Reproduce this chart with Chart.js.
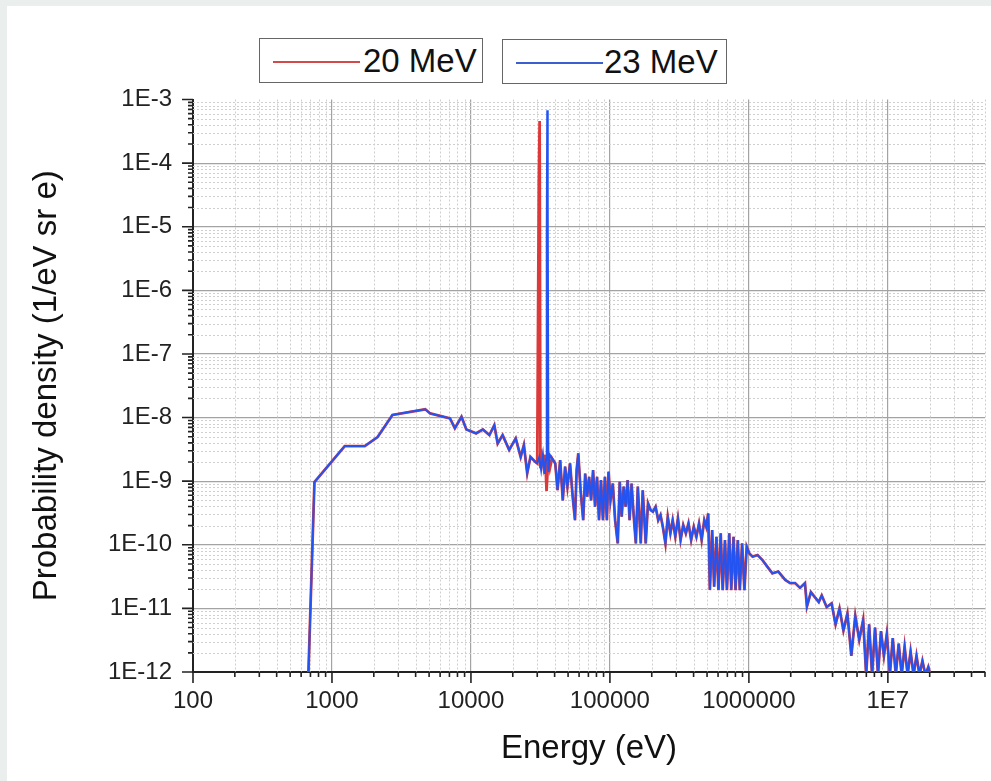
<!DOCTYPE html>
<html>
<head>
<meta charset="utf-8">
<script src="https://cdn.jsdelivr.net/npm/chart.js@4.4.1/dist/chart.umd.min.js"></script>
<style>
  html, body { margin: 0; padding: 0; overflow: hidden; background: #eaefee; }
  body { width: 991px; height: 781px; position: relative; }
  #panel { position: absolute; left: 7px; top: 6px; width: 1100px; height: 800px; background: #fff; }
  #wrap { position: absolute; left: 0; top: 0; width: 1000px; height: 781px; }
  .leg { position: absolute; height: 43px; border: 1.5px solid #666; background: #fff; box-sizing: content-box;
         font-family: 'Liberation Sans', Arial, sans-serif; font-size: 33px; color: #111; }
  .leg .ln { position: absolute; top: 22px; height: 2px; width: 87px; }
  .leg .tx { position: absolute; top: 1px; line-height: 42px; }
</style>
</head>
<body>
<div id="panel"></div>
<div id="wrap"><canvas id="chart" width="1000" height="781"></canvas></div>
<div class="leg" style="left:259px; top:38px; width:222px;">
  <div class="ln" style="left:13px; background:#d24a4a;"></div>
  <div class="tx" style="left:103px;">20 MeV</div>
</div>
<div class="leg" style="left:502px; top:39px; width:223px;">
  <div class="ln" style="left:13px; background:#3c5fd0;"></div>
  <div class="tx" style="left:101px;">23 MeV</div>
</div>
<script>
// continuum below the peaks (shared by both beams)
const lowEnergy = [655, 748, 1236, 1722, 2130, 2723, 3670, 4690, 5090, 6000, 7070, 7660, 8550, 9270,
  10900, 12180, 13580, 14730, 15570, 16900, 18840, 21000, 22800, 24050, 25400, 26800, 29100];
const lowDensity = [1e-13, 9.7e-10, 3.56e-9, 3.56e-9, 4.93e-9, 1.1e-8, 1.23e-8, 1.35e-8, 1.16e-8, 1.06e-8,
  9.7e-9, 6.8e-9, 1.03e-8, 6.5e-9, 5.65e-9, 6.5e-9, 5.3e-9, 7.6e-9, 3.9e-9, 5.3e-9, 3.1e-9, 4.7e-9,
  2.4e-9, 3.7e-9, 1.33e-9, 2.4e-9, 2.0e-9];

// peak region, 20 MeV
const redPeakEnergy = [30000, 30800, 31200, 31600, 32500, 33300, 34200, 35000, 36000, 37000];
const redPeakDensity = [1.9e-9, 4.9e-5, 4.6e-4, 1.6e-9, 2.4e-9, 1.7e-9, 2.6e-9, 7e-10, 2.4e-9, 1.6e-9];

// peak region, 23 MeV
const bluePeakEnergy = [30000, 31000, 32000, 33000, 34000, 34700, 35100, 35400, 35700, 36100, 37000];
const bluePeakDensity = [1.9e-9, 2.4e-9, 1.5e-9, 2.6e-9, 1.3e-9, 2.2e-9, 7.8e-6, 6.8e-4, 2.4e-5, 1.4e-9, 2.6e-9];

// noisy tail above the peaks (shared)
const highEnergy = [38300, 40420, 41990, 43850, 45810, 47590, 49440, 51640, 53950, 56060,
  57610, 59200, 61500, 64230, 66370, 68580, 70860, 73220, 75660, 78170,
  80780, 83460, 86240, 89110, 92040, 95110, 97720, 100970, 104900, 108990,
  113850, 117630, 121540, 125600, 129760, 134080, 138530, 143140, 147890, 153640,
  158760, 166720, 172260, 180950, 187960, 196400, 203940, 213170, 222620, 231290,
  240300, 250920, 260700, 272300, 282900, 295500, 308700, 322500, 336900, 351900,
  367600, 384100, 401200, 419000, 437700, 457100, 477500, 493400, 509700, 523800,
  544200, 562300, 584300, 603700, 627100, 648000, 672900, 695300, 722500, 746500,
  775500, 801300, 832400, 860100, 893600, 928600, 964700, 1007700, 1064000, 1155000,
  1253000, 1360000, 1476000, 1628000, 1826000, 1982000, 2150000, 2333000, 2532000, 2616000,
  2793000, 2981000, 3183000, 3343000, 3628000, 3937000, 4204000, 4487000, 4790000, 5114000,
  5460000, 5829000, 6223000, 6643000, 6980000, 7332000, 7700000, 8088000, 8492000, 8920000,
  9367000, 9837000, 10330000, 10850000, 11400000, 11970000, 12570000, 13200000, 13870000, 14570000,
  15300000, 16070000, 16880000, 17730000, 18620000, 19550000, 20540000];
const highDensity = [2.3e-9, 1.90e-9, 7.2e-10, 2.15e-9, 5.0e-10, 1.69e-9, 8.2e-10, 1.90e-9, 5.7e-10, 2.44e-10,
  1.49e-9, 2.73e-9, 7.2e-10, 2.44e-10, 1.32e-9, 5.7e-10, 1.17e-9, 5.0e-10, 1.49e-9, 3.96e-10,
  1.17e-9, 2.44e-10, 1.04e-9, 2.44e-10, 1.17e-9, 2.44e-10, 1.41e-9, 5.0e-10, 9.2e-10, 2.44e-10,
  1.05e-10, 9.8e-10, 2.76e-10, 8.2e-10, 3.96e-10, 1.04e-9, 2.44e-10, 9.2e-10, 3.11e-10, 1.05e-10,
  8.2e-10, 1.05e-10, 7.2e-10, 1.05e-10, 4.5e-10, 3.51e-10, 3.31e-10, 3.96e-10, 2.44e-10, 2.93e-10,
  1.92e-10, 1.05e-10, 2.76e-10, 1.51e-10, 2.44e-10, 1.34e-10, 2.60e-10, 1.19e-10, 2.04e-10, 1.51e-10,
  2.17e-10, 1.19e-10, 1.92e-10, 1.34e-10, 2.17e-10, 1.19e-10, 2.44e-10, 1.92e-10, 3.11e-10, 1.94e-11,
  1.70e-10, 2.19e-11, 1.34e-10, 1.94e-11, 1.51e-10, 1.94e-11, 1.19e-10, 1.94e-11, 1.51e-10, 1.94e-11,
  1.34e-10, 1.94e-11, 1.19e-10, 1.94e-11, 1.05e-10, 1.94e-11, 9.3e-11, 7.3e-11, 6.5e-11, 6.9e-11,
  5.75e-11, 4.5e-11, 3.55e-11, 3.8e-11, 2.8e-11, 2.5e-11, 2.5e-11, 2.1e-11, 2.5e-11, 1.07e-11,
  1.8e-11, 1.5e-11, 1.26e-11, 1.6e-11, 1.05e-11, 1.2e-11, 5.6e-12, 1.0e-11, 4.5e-12, 8.3e-12,
  1.8e-12, 7.6e-12, 3.2e-12, 6.6e-12, 9e-13, 5.6e-12, 9e-13, 5.0e-12, 9e-13, 4.4e-12,
  1.8e-12, 4.0e-12, 9e-13, 3.4e-12, 9e-13, 2.8e-12, 9e-13, 2.5e-12, 9e-13, 2.1e-12,
  9e-13, 1.8e-12, 9e-13, 1.5e-12, 9e-13, 1.2e-12, 8e-13];

const xMajor = [100, 1000, 10000, 100000, 1000000, 10000000];
const xTickLabels = ['100', '1000', '10000', '100000', '1000000', '1E7'];
const yMajor = [1e-12, 1e-11, 1e-10, 1e-9, 1e-8, 1e-7, 1e-6, 1e-5, 1e-4, 1e-3];
const yTickLabels = ['1E-12', '1E-11', '1E-10', '1E-9', '1E-8', '1E-7', '1E-6', '1E-5', '1E-4', '1E-3'];
const xMin = 100, xMax = 5e7, yMin = 1e-12, yMax = 1e-3;

const FONT = "'Liberation Sans', Arial, sans-serif";

function toPoints(es, vs) {
    return es.map((e, i) => ({x: e, y: vs[i]}));
}
const redData = [].concat(toPoints(lowEnergy, lowDensity), toPoints(redPeakEnergy, redPeakDensity), toPoints(highEnergy, highDensity));
const blueData = [].concat(toPoints(lowEnergy, lowDensity), toPoints(bluePeakEnergy, bluePeakDensity), toPoints(highEnergy, highDensity));

function isMajor(v) {
    const l = Math.log10(v);
    return Math.abs(l - Math.round(l)) < 1e-9;
}
// ticks at 1..9 x every decade
function logTicks(majors, max) {
    const out = [];
    majors.forEach(m => {
        for (let k = 1; k <= 9; k++) {
            const v = m * k;
            if (v <= max * 1.0000001) out.push({value: v, major: k === 1});
        }
    });
    return out;
}
function labelFor(majors, labels, v) {
    for (let i = 0; i < majors.length; i++) {
        if (Math.abs(majors[i] - v) / majors[i] < 1e-9) return labels[i];
    }
    return '';
}

const axisMarks = {
    id: 'axisMarks',
    beforeDatasetsDraw(chart) {
        const {ctx, chartArea: a, scales: {x, y}} = chart;
        ctx.save();
        ctx.strokeStyle = '#cfcfcf';
        ctx.lineWidth = 1;
        ctx.setLineDash([2, 2]);
        ctx.beginPath();
        x.ticks.forEach(t => {
            if (isMajor(t.value)) return;
            const px = Math.round(x.getPixelForValue(t.value)) + 0.5;
            ctx.moveTo(px, a.top); ctx.lineTo(px, a.bottom);
        });
        y.ticks.forEach(t => {
            if (isMajor(t.value)) return;
            const py = Math.round(y.getPixelForValue(t.value)) + 0.5;
            ctx.moveTo(a.left, py); ctx.lineTo(a.right, py);
        });
        ctx.stroke();
        ctx.restore();
    },
    afterDraw(chart) {
        const {ctx, chartArea: a, scales: {x, y}} = chart;
        ctx.save();
        ctx.strokeStyle = '#222';
        ctx.lineWidth = 1.6;
        ctx.beginPath();
        x.ticks.forEach(t => {
            const px = x.getPixelForValue(t.value);
            ctx.moveTo(px, a.bottom); ctx.lineTo(px, a.bottom + (isMajor(t.value) ? 11 : 5));
        });
        y.ticks.forEach(t => {
            const py = y.getPixelForValue(t.value);
            ctx.moveTo(a.left, py); ctx.lineTo(a.left - (isMajor(t.value) ? 11 : 5), py);
        });
        ctx.stroke();
        ctx.restore();
    }
};

const ctx = document.getElementById('chart').getContext('2d');
const chart = new Chart(ctx, {
    type: 'line',
    data: {
        datasets: [{
            label: '20 MeV',
            data: redData,
            borderColor: '#dc3a3a',
            borderWidth: 2.8,
            pointRadius: 0,
            tension: 0,
            order: 1
        }, {
            label: '23 MeV',
            data: blueData,
            borderColor: '#2354f2',
            borderWidth: 2,
            pointRadius: 0,
            tension: 0,
            order: 0
        }]
    },
    options: {
        responsive: false,
        animation: false,
        devicePixelRatio: 1,
        layout: { padding: { left: 27, top: 99.5, right: 4.6, bottom: 12 } },
        plugins: { legend: { display: false }, tooltip: { enabled: false } },
        scales: {
            x: {
                type: 'logarithmic',
                min: xMin,
                max: xMax,
                afterBuildTicks: s => { s.ticks = logTicks(xMajor, xMax); },
                afterFit: s => { s.height = 97; },
                ticks: {
                    autoSkip: false,
                    maxRotation: 0,
                    padding: 15,
                    color: '#222',
                    font: { family: FONT, size: 24 },
                    callback: v => labelFor(xMajor, xTickLabels, v)
                },
                grid: {
                    drawTicks: false,
                    lineWidth: 1.2,
                    color: c => (c.tick && isMajor(c.tick.value)) ? '#a3a3a3' : 'rgba(0,0,0,0)'
                },
                border: { color: '#222', width: 2 },
                title: { display: true, text: 'Energy (eV)', color: '#111', padding: 0, font: { family: FONT, size: 33 } }
            },
            y: {
                type: 'logarithmic',
                min: yMin,
                max: yMax,
                afterBuildTicks: s => { s.ticks = logTicks(yMajor, yMax); },
                afterFit: s => { s.width = 166; },
                ticks: {
                    autoSkip: false,
                    padding: 21,
                    color: '#222',
                    font: { family: FONT, size: 24 },
                    callback: v => labelFor(yMajor, yTickLabels, v)
                },
                grid: {
                    drawTicks: false,
                    lineWidth: 1.2,
                    color: c => (c.tick && isMajor(c.tick.value) && c.tick.value < yMax * 0.5) ? '#a3a3a3' : 'rgba(0,0,0,0)'
                },
                border: { color: '#222', width: 2 },
                title: { display: true, text: 'Probability density (1/eV sr e)', color: '#111', padding: 0, font: { family: FONT, size: 33 } }
            }
        }
    },
    plugins: [axisMarks]
});
</script>
</body>
</html>
